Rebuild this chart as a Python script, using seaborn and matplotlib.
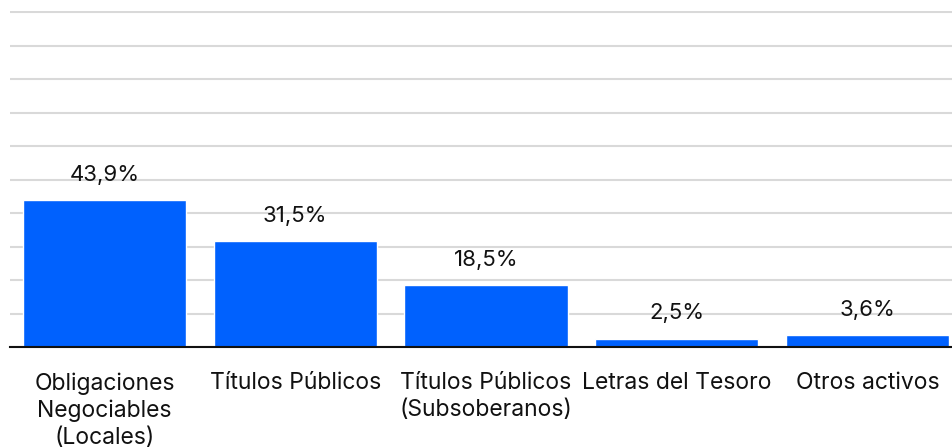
import matplotlib
matplotlib.use("Agg")
import matplotlib.pyplot as plt
import seaborn as sns
import pandas as pd

categories = ["Obligaciones\nNegociables\n(Locales)", "Títulos Públicos",
              "Títulos Públicos\n(Subsoberanos)", "Letras del Tesoro", "Otros activos"]
values = [43.9, 31.5, 18.5, 2.5, 3.6]
value_labels = ["43,9%", "31,5%", "18,5%", "2,5%", "3,6%"]

sns.set_theme(style="white")
plt.rcParams['font.family'] = ['Inter', 'DejaVu Sans']

df = pd.DataFrame({"cat": categories, "val": values})

fig = plt.figure(figsize=(9.53, 4.48), dpi=100)
ax = fig.add_axes([10/953, 101/448, 943/953, 336/448])

sns.barplot(data=df, x="cat", y="val", color="#0061FE", saturation=1, width=0.855, ax=ax, zorder=3)

ax.set_ylim(0, 100.3)
ax.set_xlim(-0.495, 4.448)
ax.set_yticks(range(0, 101, 10))
ax.yaxis.grid(True, color="#D9D9D9", linewidth=1.5, zorder=0)
ax.set_axisbelow(True)
ax.tick_params(axis="y", left=False, labelleft=False)
ax.tick_params(axis="x", bottom=False, pad=12, labelsize=16.5, colors="#111111")
for lbl in ax.get_xticklabels():
    lbl.set_linespacing(1.3)
for s in ["top", "right", "left"]:
    ax.spines[s].set_visible(False)
ax.spines["bottom"].set_color("#111111")
ax.spines["bottom"].set_linewidth(1.5)
ax.spines["bottom"].set_zorder(5)
ax.set_xlabel("")
ax.set_ylabel("")

for i, (v, lab) in enumerate(zip(values, value_labels)):
    ax.annotate(lab, (i, v), xytext=(0, 11), textcoords="offset points",
                ha="center", va="bottom", fontsize=16, color="#111111")

fig.savefig("out.png", dpi=100)
